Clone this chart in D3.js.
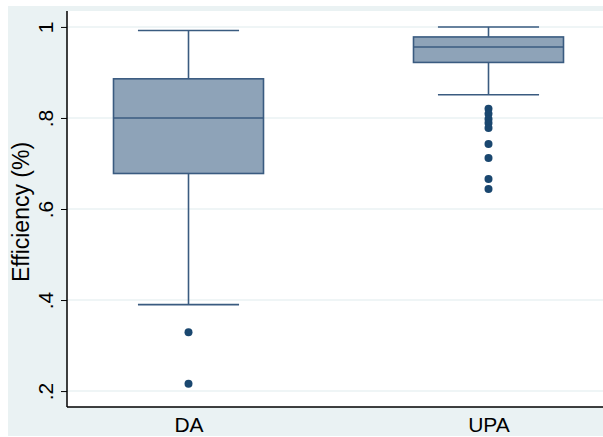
<!DOCTYPE html>
<html>
<head>
<meta charset="utf-8">
<script src="https://cdn.jsdelivr.net/npm/d3@7"></script>
<style>
  html, body { margin: 0; padding: 0; background: #ffffff; }
  svg { display: block; }
  text { font-family: "Liberation Sans", Arial, sans-serif; fill: #000; }
</style>
</head>
<body>
<svg id="chart" width="603" height="437"></svg>
<script>
// Box-plot summary statistics for each group
const categories   = ["DA", "UPA"];
const whiskerLow   = [0.390, 0.851];
const quartile1    = [0.678, 0.922];
const medians      = [0.800, 0.956];
const quartile3    = [0.886, 0.978];
const whiskerHigh  = [0.992, 1.000];
const outliersDA   = [0.329, 0.216];
const outliersUPA  = [0.820, 0.809, 0.798, 0.789, 0.778, 0.743, 0.712, 0.666, 0.644];
const outliers     = [outliersDA, outliersUPA];
const yTicks       = [0.2, 0.4, 0.6, 0.8, 1.0];
const yTickLabels  = [".2", ".4", ".6", ".8", "1"];
const yTitle       = "Efficiency (%)";

const svg = d3.select("#chart");

// graph region (light) and plot region (white)
const outer = { left: 8, top: 6, right: 610, bottom: 436 };
const plot  = { left: 67, top: 11, right: 610, bottom: 407 };

const navy = "#1a476f";
const boxFill = "#8ea3b8";
const boxStroke = "#3a5b80";
const gridColor = "#eaf2f3";

svg.append("rect")
  .attr("x", outer.left).attr("y", outer.top)
  .attr("width", outer.right - outer.left).attr("height", outer.bottom - outer.top)
  .attr("fill", "#eaf2f3");

svg.append("rect")
  .attr("x", plot.left).attr("y", plot.top)
  .attr("width", plot.right - plot.left).attr("height", plot.bottom - plot.top)
  .attr("fill", "#ffffff");

const y = d3.scaleLinear().domain([0.165, 1.035]).range([plot.bottom, plot.top]);
const x = d3.scalePoint().domain(categories).range([plot.left, plot.right]).padding(0.405);
const step = x.step();
const boxW = step * 0.5;
const capW = step * 0.337;

// horizontal grid lines
svg.append("g").selectAll("line").data(yTicks).join("line")
  .attr("x1", plot.left).attr("x2", plot.right)
  .attr("y1", d => y(d)).attr("y2", d => y(d))
  .attr("stroke", gridColor).attr("stroke-width", 1.5);

// boxes
const groups = categories.map((c, i) => ({
  cat: c, lo: whiskerLow[i], q1: quartile1[i], med: medians[i],
  q3: quartile3[i], hi: whiskerHigh[i], out: outliers[i]
}));

const g = svg.append("g");
groups.forEach(d => {
  const cx = x(d.cat);
  // whiskers
  g.append("line").attr("x1", cx).attr("x2", cx)
    .attr("y1", y(d.q3)).attr("y2", y(d.hi))
    .attr("stroke", boxStroke).attr("stroke-width", 1.6);
  g.append("line").attr("x1", cx).attr("x2", cx)
    .attr("y1", y(d.q1)).attr("y2", y(d.lo))
    .attr("stroke", boxStroke).attr("stroke-width", 1.6);
  g.append("line").attr("x1", cx - capW / 2).attr("x2", cx + capW / 2)
    .attr("y1", y(d.hi)).attr("y2", y(d.hi))
    .attr("stroke", boxStroke).attr("stroke-width", 1.6);
  g.append("line").attr("x1", cx - capW / 2).attr("x2", cx + capW / 2)
    .attr("y1", y(d.lo)).attr("y2", y(d.lo))
    .attr("stroke", boxStroke).attr("stroke-width", 1.6);
  // box
  g.append("rect")
    .attr("x", cx - boxW / 2).attr("y", y(d.q3))
    .attr("width", boxW).attr("height", y(d.q1) - y(d.q3))
    .attr("fill", boxFill).attr("stroke", boxStroke).attr("stroke-width", 1.6);
  // median
  g.append("line").attr("x1", cx - boxW / 2).attr("x2", cx + boxW / 2)
    .attr("y1", y(d.med)).attr("y2", y(d.med))
    .attr("stroke", boxStroke).attr("stroke-width", 1.6);
  // outside values
  g.selectAll(null).data(d.out).join("circle")
    .attr("cx", cx).attr("cy", v => y(v)).attr("r", 4)
    .attr("fill", navy);
});

// y axis
const yAxis = d3.axisLeft(y).tickValues(yTicks)
  .tickFormat((d, i) => yTickLabels[i]).tickSize(6).tickPadding(0);
const ya = svg.append("g").attr("transform", `translate(${plot.left},0)`).call(yAxis);
ya.select(".domain").remove();
ya.selectAll(".tick line").attr("stroke", "#000").attr("stroke-width", 1);
ya.selectAll(".tick text")
  .attr("x", null).attr("dy", null)
  .attr("transform", "translate(-14,0) rotate(-90)")
  .attr("text-anchor", "middle")
  .attr("font-size", 21)
  .attr("font-family", "Liberation Sans, Arial, sans-serif");

svg.append("line")
  .attr("x1", plot.left).attr("x2", plot.left)
  .attr("y1", plot.top).attr("y2", plot.bottom)
  .attr("stroke", "#000").attr("stroke-width", 1.5);

// x axis
const xAxis = d3.axisBottom(x).tickSize(0).tickPadding(0);
const xa = svg.append("g").attr("transform", `translate(0,${plot.bottom})`).call(xAxis);
xa.select(".domain").remove();
xa.selectAll(".tick text")
  .attr("y", 25).attr("dy", null)
  .attr("font-size", 21)
  .attr("font-family", "Liberation Sans, Arial, sans-serif");

svg.append("line")
  .attr("x1", plot.left).attr("x2", plot.right)
  .attr("y1", plot.bottom).attr("y2", plot.bottom)
  .attr("stroke", "#000").attr("stroke-width", 1.5);

// y axis title
svg.append("text")
  .attr("transform", `translate(29,${(y(0.2) + y(1)) / 2 + 3}) rotate(-90)`)
  .attr("text-anchor", "middle")
  .attr("font-size", 23)
  .text(yTitle);
</script>
</body>
</html>
